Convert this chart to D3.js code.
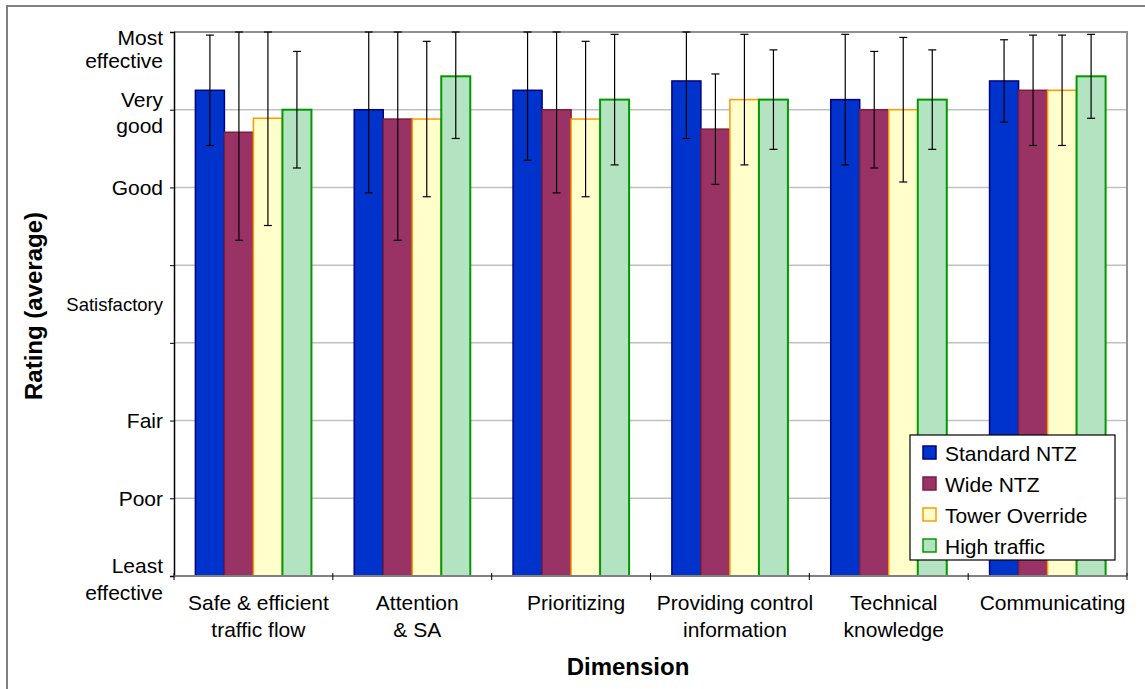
<!DOCTYPE html>
<html><head><meta charset="utf-8">
<script src="https://cdn.jsdelivr.net/npm/d3@7"></script>
<style>
html,body{margin:0;padding:0;background:#fff;}
text{font-family:"Liberation Sans",Arial,sans-serif;fill:#000;}
</style></head>
<body><svg id="chart" width="1145" height="689"></svg>
<script>
// ---- data ----
const categories = ["Safe & efficient\ntraffic flow", "Attention\n& SA", "Prioritizing",
  "Providing control\ninformation", "Technical\nknowledge", "Communicating"];
const seriesNames = ["Standard NTZ", "Wide NTZ", "Tower Override", "High traffic"];
const standardNTZ = [7.25, 7.0, 7.25, 7.37, 7.13, 7.37];
const standardErr = [0.71, 1.07, 0.90, 0.74, 0.84, 0.53];
const wideNTZ = [6.71, 6.88, 7.0, 6.75, 7.0, 7.25];
const wideErr = [1.39, 1.56, 1.07, 0.71, 0.75, 0.71];
const towerOverride = [6.89, 6.88, 6.88, 7.13, 7.0, 7.25];
const towerErr = [1.38, 1.0, 1.0, 0.84, 0.93, 0.71];
const highTraffic = [7.0, 7.43, 7.13, 7.13, 7.13, 7.43];
const highErr = [0.75, 0.80, 0.84, 0.64, 0.64, 0.54];
const yTickValues = [1, 2, 3, 4.5, 6, 7, 8];
const yTickLabels = ["Least\neffective", "Poor", "Fair", "Satisfactory", "Good", "Very\ngood", "Most\neffective"];
const yGridValues = [1, 2, 3, 4, 5, 6, 7, 8];

const seriesValues = [standardNTZ, wideNTZ, towerOverride, highTraffic];
const seriesErrs = [standardErr, wideErr, towerErr, highErr];
const fills = ["#0033CC", "#993366", "#FFFFCC", "#B3E3C0"];
const strokes = ["#000080", "#7A1F3D", "#FF9900", "#009900"];

// ---- layout ----
const svg = d3.select("#chart");
const L = 174, R = 1127, T = 32, B = 576;

svg.append("rect").attr("width", 1145).attr("height", 689).attr("fill", "#fff");
// outer chart frame (left and top edges visible)
svg.append("path").attr("d", "M7,689 L7,6 L1145,6").attr("fill", "none")
  .attr("stroke", "#808080").attr("stroke-width", 2);

const y = d3.scaleLinear().domain([1, 8]).range([B, T]);
const x0 = d3.scaleBand().domain(categories).range([L, R]);
const bw = x0.bandwidth();
const x1 = d3.scaleBand().domain(seriesNames).range([bw * 0.1347, bw * 0.8653]);

// gridlines
svg.append("g").selectAll("line").data(yGridValues).join("line")
  .attr("x1", L).attr("x2", R).attr("y1", d => y(d)).attr("y2", d => y(d))
  .attr("stroke", "#C0C0C0").attr("stroke-width", 1.5);
// plot area border (top & right)
svg.append("path").attr("d", `M${L},${T} L${R},${T} L${R},${B}`).attr("fill", "none")
  .attr("stroke", "#909090").attr("stroke-width", 2);

// bars
const data = [];
categories.forEach((c, i) => seriesNames.forEach((s, j) => {
  data.push({c, s, j, v: seriesValues[j][i], e: seriesErrs[j][i]});
}));
svg.append("g").selectAll("rect").data(data).join("rect")
  .attr("x", d => x0(d.c) + x1(d.s))
  .attr("y", d => y(d.v))
  .attr("width", x1.bandwidth())
  .attr("height", d => y(1) - y(d.v))
  .attr("fill", d => fills[d.j])
  .attr("stroke", d => strokes[d.j])
  .attr("stroke-width", d => d.j === 3 ? 2 : 1.5);

// error bars
const clamp = v => Math.max(1, Math.min(8, v));
const eg = svg.append("g").attr("stroke", "#000").attr("stroke-width", 1.2);
data.forEach(d => {
  const cx = x0(d.c) + x1(d.s) + x1.bandwidth() / 2;
  const yt = y(clamp(d.v + d.e)), yb = y(clamp(d.v - d.e));
  eg.append("line").attr("x1", cx).attr("x2", cx).attr("y1", yt).attr("y2", yb);
  eg.append("line").attr("x1", cx - 4).attr("x2", cx + 4).attr("y1", yt).attr("y2", yt);
  eg.append("line").attr("x1", cx - 4).attr("x2", cx + 4).attr("y1", yb).attr("y2", yb);
});

// y axis
const yAxis = d3.axisLeft(y).tickValues(yGridValues).tickSize(4).tickFormat("");
const yg = svg.append("g").attr("transform", `translate(${L},0)`).call(yAxis);
yg.select(".domain").attr("stroke", "#000").attr("stroke-width", 1.5);
yg.selectAll(".tick line").attr("stroke", "#000");

// y tick labels
const ylab = svg.append("g");
yTickValues.forEach((v, i) => {
  const lines = yTickLabels[i].split("\n");
  const gy = y(v);
  const fs = lines[0] === "Satisfactory" ? 18.5 : 21;
  const t = ylab.append("text").attr("text-anchor", "end").attr("font-size", fs);
  if (lines.length === 1) {
    t.append("tspan").attr("x", 163).attr("y", gy + fs * 0.36).text(lines[0]);
  } else {
    let first = gy - 3;
    let lh = 26.5;
    if (first - 15 < T - 4) { first = T + 13; lh = 23; }
    lines.forEach((ln, k) => t.append("tspan").attr("x", 163).attr("y", first + k * lh).text(ln));
  }
});

// x axis
const xb = svg.append("g");
xb.append("line").attr("x1", L).attr("x2", R).attr("y1", B).attr("y2", B)
  .attr("stroke", "#808080").attr("stroke-width", 2);
const bounds = categories.map(c => x0(c)).concat([R]);
xb.selectAll("line.tk").data(bounds).join("line").attr("class", "tk")
  .attr("x1", d => d).attr("x2", d => d).attr("y1", B - 3).attr("y2", B + 4)
  .attr("stroke", "#000").attr("stroke-width", 1);

// x tick labels
categories.forEach(c => {
  const cx = x0(c) + bw / 2 + 5;
  const t = svg.append("text").attr("text-anchor", "middle").attr("font-size", 21);
  c.split("\n").forEach((ln, k) => t.append("tspan").attr("x", cx).attr("y", 610 + k * 27).text(ln));
});

// axis titles
svg.append("text").attr("x", 628).attr("y", 675).attr("text-anchor", "middle")
  .attr("font-size", 24).attr("font-weight", "bold").text("Dimension");
svg.append("text").attr("transform", "translate(42,306) rotate(-90)").attr("text-anchor", "middle")
  .attr("font-size", 24).attr("font-weight", "bold").text("Rating (average)");

// legend
const lg = svg.append("g").attr("transform", "translate(910,435)");
lg.append("rect").attr("width", 205).attr("height", 125).attr("fill", "#fff")
  .attr("stroke", "#000").attr("stroke-width", 1.2);
seriesNames.forEach((s, j) => {
  const cy = 18 + j * 31;
  lg.append("rect").attr("x", 13).attr("y", cy - 7).attr("width", 13).attr("height", 13)
    .attr("fill", fills[j]).attr("stroke", strokes[j]).attr("stroke-width", 1.5);
  lg.append("text").attr("x", 35).attr("y", cy + 7.5).attr("font-size", 21).text(s);
});
</script></body></html>
